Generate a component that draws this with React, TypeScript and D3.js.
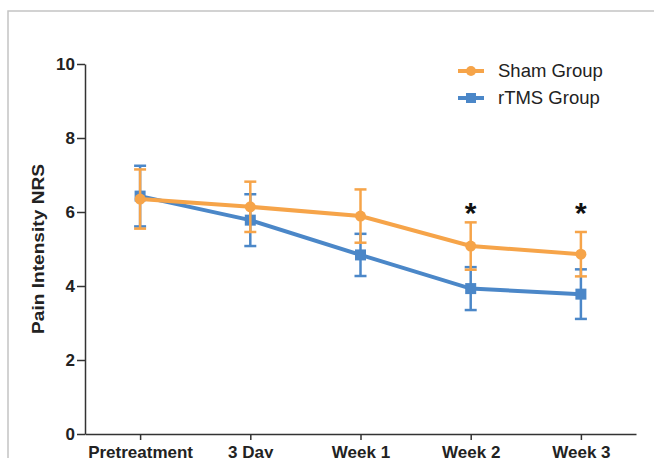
import { useEffect, useRef } from "react";
import * as d3 from "d3";

const categories = ["Pretreatment", "3 Day", "Week 1", "Week 2", "Week 3"];

const shamMean = [6.35, 6.14, 5.89, 5.08, 4.86];
const shamErr = [0.8, 0.68, 0.72, 0.64, 0.6];

const rtmsMean = [6.43, 5.78, 4.84, 3.93, 3.78];
const rtmsErr = [0.82, 0.7, 0.57, 0.58, 0.67];

const yTicks = [0, 2, 4, 6, 8, 10];

// significance markers: category + height (in NRS units) of the asterisk
const starCategories = ["Week 2", "Week 3"];
const starLevel = 6.15;

const groups = [
  { name: "Sham Group", color: "#F6A449", marker: "circle", mean: shamMean, err: shamErr },
  { name: "rTMS Group", color: "#4B87C8", marker: "square", mean: rtmsMean, err: rtmsErr },
];

export default function App() {
  const svgRef = useRef<SVGSVGElement>(null);

  useEffect(() => {
    if (!svgRef.current) return;
    const width = 654;
    const height = 458;
    const svg = d3.select(svgRef.current);
    svg.selectAll("*").remove();

    // thin frame around the figure (top + left visible)
    svg
      .append("path")
      .attr("d", `M8,${height} L8,11 L${width},11`)
      .attr("fill", "none")
      .attr("stroke", "#c4c4c4")
      .attr("stroke-width", 1.5);

    const x = d3.scalePoint<string>().domain(categories).range([85, 636]).padding(0.5);
    const y = d3.scaleLinear().domain([0, 10]).range([434, 64]);

    const font = "Arial, 'Liberation Sans', Helvetica, sans-serif";

    // y axis
    const yAxis = svg
      .append("g")
      .attr("transform", `translate(${x.range()[0]},0)`)
      .call(d3.axisLeft(y).tickValues(yTicks).tickSize(8).tickSizeOuter(0).tickPadding(2));
    yAxis.select(".domain").attr("stroke", "#333").attr("stroke-width", 1.5);
    yAxis.selectAll(".tick line").attr("stroke", "#333").attr("stroke-width", 1.5);
    yAxis
      .selectAll("text")
      .style("font-family", font)
      .style("font-size", "17px")
      .style("font-weight", "700")
      .style("fill", "#222");

    // x axis
    const xAxis = svg
      .append("g")
      .attr("transform", `translate(0,${y(0)})`)
      .call(d3.axisBottom(x).tickSize(6).tickSizeOuter(0).tickPadding(6));
    xAxis.select(".domain").attr("stroke", "#333").attr("stroke-width", 1.5);
    xAxis.selectAll(".tick line").attr("stroke", "#333").attr("stroke-width", 1.5);
    xAxis
      .selectAll("text")
      .style("font-family", font)
      .style("font-size", "17px")
      .style("font-weight", "700")
      .style("fill", "#222");

    // y axis title
    svg
      .append("text")
      .attr("transform", `translate(44,${(y(0) + y(10)) / 2}) rotate(-90)`)
      .attr("text-anchor", "middle")
      .attr("textLength", 170)
      .attr("lengthAdjust", "spacingAndGlyphs")
      .style("font-family", font)
      .style("font-size", "17px")
      .style("font-weight", "700")
      .style("fill", "#222")
      .text("Pain Intensity NRS");

    const line = d3
      .line<number>()
      .x((_, i) => x(categories[i])!)
      .y((d) => y(d));

    // rTMS first so Sham sits on top
    [...groups].reverse().forEach((gr) => {
      const g = svg.append("g");
      // error bars
      gr.mean.forEach((m, i) => {
        const cx = x(categories[i])!;
        const top = y(m + gr.err[i]);
        const bot = y(m - gr.err[i]);
        g.append("line")
          .attr("x1", cx).attr("x2", cx).attr("y1", top).attr("y2", bot)
          .attr("stroke", gr.color).attr("stroke-width", 2.5);
        [top, bot].forEach((yy) =>
          g.append("line")
            .attr("x1", cx - 6).attr("x2", cx + 6).attr("y1", yy).attr("y2", yy)
            .attr("stroke", gr.color).attr("stroke-width", 2.5),
        );
      });
      g.append("path")
        .datum(gr.mean)
        .attr("fill", "none")
        .attr("stroke", gr.color)
        .attr("stroke-width", 4)
        .attr("d", line);
      gr.mean.forEach((m, i) => {
        const cx = x(categories[i])!;
        if (gr.marker === "circle") {
          g.append("circle").attr("cx", cx).attr("cy", y(m)).attr("r", 5.5).attr("fill", gr.color);
        } else {
          g.append("rect")
            .attr("x", cx - 5.5).attr("y", y(m) - 5.5).attr("width", 11).attr("height", 11)
            .attr("fill", gr.color);
        }
      });
    });

    // significance asterisks
    starCategories.forEach((c) => {
      svg
        .append("text")
        .attr("x", x(c)!)
        .attr("y", y(starLevel) + 17)
        .attr("text-anchor", "middle")
        .style("font-family", font)
        .style("font-size", "30px")
        .style("font-weight", "700")
        .style("fill", "#111")
        .text("*");
    });

    // legend
    const legend = svg.append("g").attr("transform", "translate(458,71)");
    groups.forEach((gr, i) => {
      const item = legend.append("g").attr("transform", `translate(0,${i * 27})`);
      item.append("line")
        .attr("x1", 0).attr("x2", 26).attr("y1", 0).attr("y2", 0)
        .attr("stroke", gr.color).attr("stroke-width", 4);
      if (gr.marker === "circle") {
        item.append("circle").attr("cx", 13).attr("cy", 0).attr("r", 5).attr("fill", gr.color);
      } else {
        item.append("rect").attr("x", 8).attr("y", -5).attr("width", 10).attr("height", 10).attr("fill", gr.color);
      }
      item.append("text")
        .attr("x", 40)
        .attr("y", 6)
        .style("font-family", font)
        .style("font-size", "18.5px")
        .style("fill", "#222")
        .text(gr.name);
    });
  }, []);

  return (
    <svg
      ref={svgRef}
      width={654}
      height={458}
      style={{ position: "fixed", left: 0, top: 0, background: "#fff" }}
    />
  );
}
